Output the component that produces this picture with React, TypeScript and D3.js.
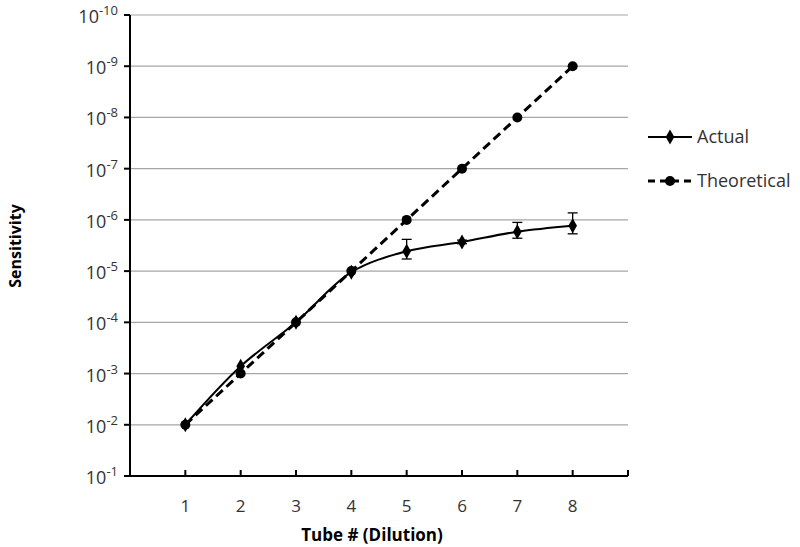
import * as d3 from "d3";

// Tube numbers (dilution steps)
const tubes = [1, 2, 3, 4, 5, 6, 7, 8];
// Measured sensitivity per tube
const actual = [1.0e-2, 7.2e-4, 1.0e-4, 1.05e-5, 4.1e-6, 2.7e-6, 1.7e-6, 1.3e-6];
// Error bar half-widths (linear)
const actualErr = [0, 0, 0, 0, 1.7e-6, 2.2e-7, 5.8e-7, 5.7e-7];
// Expected sensitivity
const theoretical = [1e-2, 1e-3, 1e-4, 1e-5, 1e-6, 1e-7, 1e-8, 1e-9];
// y axis decades (exponents)
const yExponents = [-1, -2, -3, -4, -5, -6, -7, -8, -9, -10];
const xTicks = [1, 2, 3, 4, 5, 6, 7, 8, 9];

const W = 800;
const H = 547;
const left = 130;
const right = 628;
const top = 15;
const bottom = 476;
const font = "'Open Sans', sans-serif";

export default function App() {
  const x = d3.scaleLinear().domain([0, 9]).range([left, right]);
  const y = d3.scaleLog().domain([1e-1, 1e-10]).range([bottom, top]);

  const actualLine = d3
    .line<number>()
    .x((_, i) => x(tubes[i]))
    .y((d) => y(d))
    .curve(d3.curveCatmullRom.alpha(0.5));
  const theoLine = d3
    .line<number>()
    .x((_, i) => x(tubes[i]))
    .y((d) => y(d));

  const diamond = d3.symbol().type(d3.symbolDiamond).size(65)() as string;

  return (
    <svg
      width={W}
      height={H}
      style={{ position: "absolute", left: 0, top: 0, background: "#fff" }}
      fontFamily={font}
    >
      {/* gridlines */}
      {yExponents.slice(1).map((e) => (
        <line key={e} x1={left} x2={right} y1={y(Math.pow(10, e))} y2={y(Math.pow(10, e))} stroke="#a6a6a6" strokeWidth={1.2} />
      ))}

      {/* y axis */}
      <line x1={left} x2={left} y1={top} y2={bottom} stroke="#000" strokeWidth={2} />
      {yExponents.map((e) => {
        const yy = y(Math.pow(10, e));
        return (
          <g key={e}>
            <line x1={left - 6} x2={left} y1={yy} y2={yy} stroke="#000" strokeWidth={2} />
            <text x={118} y={yy + 8} textAnchor="end" fontSize={18} fill="#333">
              10
              <tspan dy={-8} fontSize={13}>
                {String(e)}
              </tspan>
            </text>
          </g>
        );
      })}

      {/* x axis */}
      <line x1={left} x2={right} y1={bottom} y2={bottom} stroke="#000" strokeWidth={2} />
      {xTicks.map((t) => (
        <line key={t} x1={x(t)} x2={x(t)} y1={bottom} y2={bottom - 6} stroke="#000" strokeWidth={2} />
      ))}
      {tubes.map((t) => (
        <text key={t} x={x(t)} y={512} textAnchor="middle" fontSize={17} fill="#333">
          {t}
        </text>
      ))}

      {/* theoretical */}
      <path d={theoLine(theoretical) as string} fill="none" stroke="#000" strokeWidth={3} strokeDasharray="9,5" />
      {theoretical.map((v, i) => (
        <circle key={i} cx={x(tubes[i])} cy={y(v)} r={5} fill="#000" />
      ))}

      {/* actual */}
      <path d={actualLine(actual) as string} fill="none" stroke="#000" strokeWidth={2} />
      {actual.map((v, i) => {
        const e = actualErr[i];
        if (!e) return null;
        const cx = x(tubes[i]);
        const y1 = y(v - e);
        const y2 = y(v + e);
        return (
          <g key={i} stroke="#000" strokeWidth={1.3}>
            <line x1={cx} x2={cx} y1={y1} y2={y2} />
            <line x1={cx - 5} x2={cx + 5} y1={y1} y2={y1} />
            <line x1={cx - 5} x2={cx + 5} y1={y2} y2={y2} />
          </g>
        );
      })}
      {actual.map((v, i) => (
        <path key={i} d={diamond} transform={`translate(${x(tubes[i])},${y(v)})`} fill="#000" />
      ))}

      {/* legend */}
      <g>
        <line x1={648} x2={692} y1={137} y2={137} stroke="#000" strokeWidth={2} />
        <path d={diamond} transform="translate(670,137)" fill="#000" />
        <text x={697} y={143} fontSize={18} fill="#333">
          Actual
        </text>
        <line x1={648} x2={692} y1={181} y2={181} stroke="#000" strokeWidth={3} strokeDasharray="7,5" />
        <circle cx={670} cy={181} r={5} fill="#000" />
        <text x={697} y={187} fontSize={18} fill="#333">
          Theoretical
        </text>
      </g>

      {/* axis titles */}
      <text x={372} y={541} textAnchor="middle" fontSize={17} fontWeight="bold" fill="#000">
        Tube # (Dilution)
      </text>
      <text transform="translate(21,246) rotate(-90)" textAnchor="middle" fontSize={16} fontWeight="bold" fill="#000">
        Sensitivity
      </text>
    </svg>
  );
}
